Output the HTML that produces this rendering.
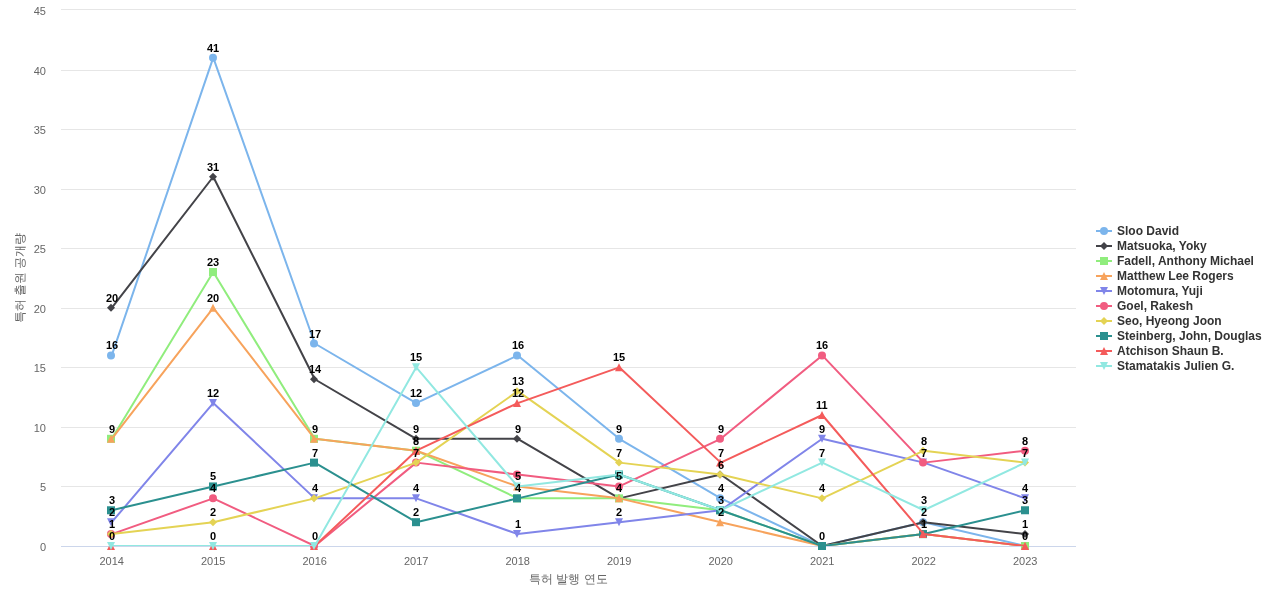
<!DOCTYPE html>
<html lang="ko"><head><meta charset="utf-8"><title>특허 출원 공개량</title>
<style>html,body{margin:0;padding:0;background:#fff;overflow:hidden}svg{display:block;will-change:transform;font-family:"Liberation Sans","WenQuanYi Zen Hei",sans-serif}.ax{font-size:11px;fill:#666}.tt{font-size:12px;fill:#666}.dl{font-size:11px;font-weight:bold;fill:#000}.lg{font-size:12px;font-weight:bold;fill:#333}</style></head><body>
<svg width="1280" height="600" viewBox="0 0 1280 600">
<rect width="1280" height="600" fill="#fff"/>
<defs><clipPath id="plot"><rect x="61" y="10" width="1015" height="536"/></clipPath></defs>
<g stroke="#e6e6e6" stroke-width="1">
<path d="M61 9.5H1076"/>
<path d="M61 70.5H1076"/>
<path d="M61 129.5H1076"/>
<path d="M61 189.5H1076"/>
<path d="M61 248.5H1076"/>
<path d="M61 308.5H1076"/>
<path d="M61 367.5H1076"/>
<path d="M61 427.5H1076"/>
<path d="M61 486.5H1076"/>
</g>
<path d="M61 546.5H1076" stroke="#ccd6eb" stroke-width="1"/>
<g class="ax" text-anchor="end">
<text x="46" y="551">0</text>
<text x="46" y="491">5</text>
<text x="46" y="432">10</text>
<text x="46" y="372">15</text>
<text x="46" y="313">20</text>
<text x="46" y="253">25</text>
<text x="46" y="194">30</text>
<text x="46" y="134">35</text>
<text x="46" y="75">40</text>
<text x="46" y="15">45</text>
</g>
<g class="ax" text-anchor="middle">
<text x="111.75" y="565">2014</text>
<text x="213.25" y="565">2015</text>
<text x="314.75" y="565">2016</text>
<text x="416.25" y="565">2017</text>
<text x="517.75" y="565">2018</text>
<text x="619.25" y="565">2019</text>
<text x="720.75" y="565">2020</text>
<text x="822.25" y="565">2021</text>
<text x="923.75" y="565">2022</text>
<text x="1025.25" y="565">2023</text>
</g>
<text class="tt" x="529 541 553 556 568 580 584 596" y="583">특허 발행 연도</text>
<text class="tt" x="-45 -33 -21 -18 -6 6 9 21 33" y="0" transform="translate(24 278) rotate(-90)">특허 출원 공개량</text>
<g><path d="M111.75 355.42 L213.25 57.64 L314.75 343.51 L416.25 403.07 L517.75 355.42 L619.25 438.8 L720.75 498.36 L822.25 546 L923.75 522.18 L1025.25 546" fill="none" stroke="#7cb5ec" stroke-width="2" stroke-linejoin="round" stroke-linecap="round" clip-path="url(#plot)"/>
<circle cx="111" cy="355.42" r="4" fill="#7cb5ec"/>
<circle cx="213" cy="57.64" r="4" fill="#7cb5ec"/>
<circle cx="314" cy="343.51" r="4" fill="#7cb5ec"/>
<circle cx="416" cy="403.07" r="4" fill="#7cb5ec"/>
<circle cx="517" cy="355.42" r="4" fill="#7cb5ec"/>
<circle cx="619" cy="438.8" r="4" fill="#7cb5ec"/>
<circle cx="720" cy="498.36" r="4" fill="#7cb5ec"/>
<circle cx="822" cy="546" r="4" fill="#7cb5ec"/>
<circle cx="923" cy="522.18" r="4" fill="#7cb5ec"/>
<circle cx="1025" cy="546" r="4" fill="#7cb5ec"/>
</g>
<g><path d="M111.75 307.78 L213.25 176.76 L314.75 379.24 L416.25 438.8 L517.75 438.8 L619.25 498.36 L720.75 474.53 L822.25 546 L923.75 522.18 L1025.25 534.09" fill="none" stroke="#434348" stroke-width="2" stroke-linejoin="round" stroke-linecap="round" clip-path="url(#plot)"/>
<path d="M111 303.78L115 307.78L111 311.78L107 307.78Z" fill="#434348"/>
<path d="M213 172.76L217 176.76L213 180.76L209 176.76Z" fill="#434348"/>
<path d="M314 375.24L318 379.24L314 383.24L310 379.24Z" fill="#434348"/>
<path d="M416 434.8L420 438.8L416 442.8L412 438.8Z" fill="#434348"/>
<path d="M517 434.8L521 438.8L517 442.8L513 438.8Z" fill="#434348"/>
<path d="M619 494.36L623 498.36L619 502.36L615 498.36Z" fill="#434348"/>
<path d="M720 470.53L724 474.53L720 478.53L716 474.53Z" fill="#434348"/>
<path d="M822 542L826 546L822 550L818 546Z" fill="#434348"/>
<path d="M923 518.18L927 522.18L923 526.18L919 522.18Z" fill="#434348"/>
<path d="M1025 530.09L1029 534.09L1025 538.09L1021 534.09Z" fill="#434348"/>
</g>
<g><path d="M111.75 438.8 L213.25 272.04 L314.75 438.8 L416.25 450.71 L517.75 498.36 L619.25 498.36 L720.75 510.27 L822.25 546 L923.75 534.09 L1025.25 546" fill="none" stroke="#90ed7d" stroke-width="2" stroke-linejoin="round" stroke-linecap="round" clip-path="url(#plot)"/>
<rect x="107" y="434.8" width="8" height="8" fill="#90ed7d"/>
<rect x="209" y="268.04" width="8" height="8" fill="#90ed7d"/>
<rect x="310" y="434.8" width="8" height="8" fill="#90ed7d"/>
<rect x="412" y="446.71" width="8" height="8" fill="#90ed7d"/>
<rect x="513" y="494.36" width="8" height="8" fill="#90ed7d"/>
<rect x="615" y="494.36" width="8" height="8" fill="#90ed7d"/>
<rect x="716" y="506.27" width="8" height="8" fill="#90ed7d"/>
<rect x="818" y="542" width="8" height="8" fill="#90ed7d"/>
<rect x="919" y="530.09" width="8" height="8" fill="#90ed7d"/>
<rect x="1021" y="542" width="8" height="8" fill="#90ed7d"/>
</g>
<g><path d="M111.75 438.8 L213.25 307.78 L314.75 438.8 L416.25 450.71 L517.75 486.44 L619.25 498.36 L720.75 522.18 L822.25 546 L923.75 534.09 L1025.25 546" fill="none" stroke="#f7a35c" stroke-width="2" stroke-linejoin="round" stroke-linecap="round" clip-path="url(#plot)"/>
<path d="M111 434.8L115 442.8L107 442.8Z" fill="#f7a35c"/>
<path d="M213 303.78L217 311.78L209 311.78Z" fill="#f7a35c"/>
<path d="M314 434.8L318 442.8L310 442.8Z" fill="#f7a35c"/>
<path d="M416 446.71L420 454.71L412 454.71Z" fill="#f7a35c"/>
<path d="M517 482.44L521 490.44L513 490.44Z" fill="#f7a35c"/>
<path d="M619 494.36L623 502.36L615 502.36Z" fill="#f7a35c"/>
<path d="M720 518.18L724 526.18L716 526.18Z" fill="#f7a35c"/>
<path d="M822 542L826 550L818 550Z" fill="#f7a35c"/>
<path d="M923 530.09L927 538.09L919 538.09Z" fill="#f7a35c"/>
<path d="M1025 542L1029 550L1021 550Z" fill="#f7a35c"/>
</g>
<g><path d="M111.75 522.18 L213.25 403.07 L314.75 498.36 L416.25 498.36 L517.75 534.09 L619.25 522.18 L720.75 510.27 L822.25 438.8 L923.75 462.62 L1025.25 498.36" fill="none" stroke="#8085e9" stroke-width="2" stroke-linejoin="round" stroke-linecap="round" clip-path="url(#plot)"/>
<path d="M107 518.18L115 518.18L111 526.18Z" fill="#8085e9"/>
<path d="M209 399.07L217 399.07L213 407.07Z" fill="#8085e9"/>
<path d="M310 494.36L318 494.36L314 502.36Z" fill="#8085e9"/>
<path d="M412 494.36L420 494.36L416 502.36Z" fill="#8085e9"/>
<path d="M513 530.09L521 530.09L517 538.09Z" fill="#8085e9"/>
<path d="M615 518.18L623 518.18L619 526.18Z" fill="#8085e9"/>
<path d="M716 506.27L724 506.27L720 514.27Z" fill="#8085e9"/>
<path d="M818 434.8L826 434.8L822 442.8Z" fill="#8085e9"/>
<path d="M919 458.62L927 458.62L923 466.62Z" fill="#8085e9"/>
<path d="M1021 494.36L1029 494.36L1025 502.36Z" fill="#8085e9"/>
</g>
<g><path d="M111.75 534.09 L213.25 498.36 L314.75 546 L416.25 462.62 L517.75 474.53 L619.25 486.44 L720.75 438.8 L822.25 355.42 L923.75 462.62 L1025.25 450.71" fill="none" stroke="#f15c80" stroke-width="2" stroke-linejoin="round" stroke-linecap="round" clip-path="url(#plot)"/>
<circle cx="111" cy="534.09" r="4" fill="#f15c80"/>
<circle cx="213" cy="498.36" r="4" fill="#f15c80"/>
<circle cx="314" cy="546" r="4" fill="#f15c80"/>
<circle cx="416" cy="462.62" r="4" fill="#f15c80"/>
<circle cx="517" cy="474.53" r="4" fill="#f15c80"/>
<circle cx="619" cy="486.44" r="4" fill="#f15c80"/>
<circle cx="720" cy="438.8" r="4" fill="#f15c80"/>
<circle cx="822" cy="355.42" r="4" fill="#f15c80"/>
<circle cx="923" cy="462.62" r="4" fill="#f15c80"/>
<circle cx="1025" cy="450.71" r="4" fill="#f15c80"/>
</g>
<g><path d="M111.75 534.09 L213.25 522.18 L314.75 498.36 L416.25 462.62 L517.75 391.16 L619.25 462.62 L720.75 474.53 L822.25 498.36 L923.75 450.71 L1025.25 462.62" fill="none" stroke="#e4d354" stroke-width="2" stroke-linejoin="round" stroke-linecap="round" clip-path="url(#plot)"/>
<path d="M111 530.09L115 534.09L111 538.09L107 534.09Z" fill="#e4d354"/>
<path d="M213 518.18L217 522.18L213 526.18L209 522.18Z" fill="#e4d354"/>
<path d="M314 494.36L318 498.36L314 502.36L310 498.36Z" fill="#e4d354"/>
<path d="M416 458.62L420 462.62L416 466.62L412 462.62Z" fill="#e4d354"/>
<path d="M517 387.16L521 391.16L517 395.16L513 391.16Z" fill="#e4d354"/>
<path d="M619 458.62L623 462.62L619 466.62L615 462.62Z" fill="#e4d354"/>
<path d="M720 470.53L724 474.53L720 478.53L716 474.53Z" fill="#e4d354"/>
<path d="M822 494.36L826 498.36L822 502.36L818 498.36Z" fill="#e4d354"/>
<path d="M923 446.71L927 450.71L923 454.71L919 450.71Z" fill="#e4d354"/>
<path d="M1025 458.62L1029 462.62L1025 466.62L1021 462.62Z" fill="#e4d354"/>
</g>
<g><path d="M111.75 510.27 L213.25 486.44 L314.75 462.62 L416.25 522.18 L517.75 498.36 L619.25 474.53 L720.75 510.27 L822.25 546 L923.75 534.09 L1025.25 510.27" fill="none" stroke="#2b908f" stroke-width="2" stroke-linejoin="round" stroke-linecap="round" clip-path="url(#plot)"/>
<rect x="107" y="506.27" width="8" height="8" fill="#2b908f"/>
<rect x="209" y="482.44" width="8" height="8" fill="#2b908f"/>
<rect x="310" y="458.62" width="8" height="8" fill="#2b908f"/>
<rect x="412" y="518.18" width="8" height="8" fill="#2b908f"/>
<rect x="513" y="494.36" width="8" height="8" fill="#2b908f"/>
<rect x="615" y="470.53" width="8" height="8" fill="#2b908f"/>
<rect x="716" y="506.27" width="8" height="8" fill="#2b908f"/>
<rect x="818" y="542" width="8" height="8" fill="#2b908f"/>
<rect x="919" y="530.09" width="8" height="8" fill="#2b908f"/>
<rect x="1021" y="506.27" width="8" height="8" fill="#2b908f"/>
</g>
<g><path d="M111.75 546 L213.25 546 L314.75 546 L416.25 450.71 L517.75 403.07 L619.25 367.33 L720.75 462.62 L822.25 414.98 L923.75 534.09 L1025.25 546" fill="none" stroke="#f45b5b" stroke-width="2" stroke-linejoin="round" stroke-linecap="round" clip-path="url(#plot)"/>
<path d="M111 542L115 550L107 550Z" fill="#f45b5b"/>
<path d="M213 542L217 550L209 550Z" fill="#f45b5b"/>
<path d="M314 542L318 550L310 550Z" fill="#f45b5b"/>
<path d="M416 446.71L420 454.71L412 454.71Z" fill="#f45b5b"/>
<path d="M517 399.07L521 407.07L513 407.07Z" fill="#f45b5b"/>
<path d="M619 363.33L623 371.33L615 371.33Z" fill="#f45b5b"/>
<path d="M720 458.62L724 466.62L716 466.62Z" fill="#f45b5b"/>
<path d="M822 410.98L826 418.98L818 418.98Z" fill="#f45b5b"/>
<path d="M923 530.09L927 538.09L919 538.09Z" fill="#f45b5b"/>
<path d="M1025 542L1029 550L1021 550Z" fill="#f45b5b"/>
</g>
<g><path d="M111.75 546 L213.25 546 L314.75 546 L416.25 367.33 L517.75 486.44 L619.25 474.53 L720.75 510.27 L822.25 462.62 L923.75 510.27 L1025.25 462.62" fill="none" stroke="#91e8e1" stroke-width="2" stroke-linejoin="round" stroke-linecap="round" clip-path="url(#plot)"/>
<path d="M107 542L115 542L111 550Z" fill="#91e8e1"/>
<path d="M209 542L217 542L213 550Z" fill="#91e8e1"/>
<path d="M310 542L318 542L314 550Z" fill="#91e8e1"/>
<path d="M412 363.33L420 363.33L416 371.33Z" fill="#91e8e1"/>
<path d="M513 482.44L521 482.44L517 490.44Z" fill="#91e8e1"/>
<path d="M615 470.53L623 470.53L619 478.53Z" fill="#91e8e1"/>
<path d="M716 506.27L724 506.27L720 514.27Z" fill="#91e8e1"/>
<path d="M818 458.62L826 458.62L822 466.62Z" fill="#91e8e1"/>
<path d="M919 506.27L927 506.27L923 514.27Z" fill="#91e8e1"/>
<path d="M1021 458.62L1029 458.62L1025 466.62Z" fill="#91e8e1"/>
</g>
<g class="dl">
<text x="106" y="349">16</text>
<text x="207" y="52">41</text>
<text x="309" y="338">17</text>
<text x="410" y="397">12</text>
<text x="512" y="349">16</text>
<text x="616" y="433">9</text>
<text x="718" y="492">4</text>
<text x="819" y="540">0</text>
<text x="921" y="516">2</text>
<text x="1022" y="540">0</text>
<text x="106" y="302">20</text>
<text x="207" y="171">31</text>
<text x="309" y="373">14</text>
<text x="413" y="433">9</text>
<text x="515" y="433">9</text>
<text x="616" y="492">4</text>
<text x="718" y="469">6</text>
<text x="1022" y="528">1</text>
<text x="109" y="433">9</text>
<text x="207" y="266">23</text>
<text x="312" y="433">9</text>
<text x="413" y="445">8</text>
<text x="515" y="492">4</text>
<text x="718" y="504">3</text>
<text x="921" y="528">1</text>
<text x="207" y="302">20</text>
<text x="515" y="480">5</text>
<text x="718" y="516">2</text>
<text x="109" y="516">2</text>
<text x="207" y="397">12</text>
<text x="312" y="492">4</text>
<text x="413" y="492">4</text>
<text x="515" y="528">1</text>
<text x="616" y="516">2</text>
<text x="819" y="433">9</text>
<text x="921" y="457">7</text>
<text x="1022" y="492">4</text>
<text x="109" y="528">1</text>
<text x="210" y="492">4</text>
<text x="312" y="540">0</text>
<text x="413" y="457">7</text>
<text x="616" y="480">5</text>
<text x="718" y="433">9</text>
<text x="816" y="349">16</text>
<text x="1022" y="445">8</text>
<text x="210" y="516">2</text>
<text x="512" y="385">13</text>
<text x="616" y="457">7</text>
<text x="819" y="492">4</text>
<text x="921" y="445">8</text>
<text x="1022" y="457">7</text>
<text x="109" y="504">3</text>
<text x="210" y="480">5</text>
<text x="312" y="457">7</text>
<text x="413" y="516">2</text>
<text x="1022" y="504">3</text>
<text x="109" y="540">0</text>
<text x="210" y="540">0</text>
<text x="512" y="397">12</text>
<text x="613" y="361">15</text>
<text x="718" y="457">7</text>
<text x="816" y="409">11</text>
<text x="410" y="361">15</text>
<text x="819" y="457">7</text>
<text x="921" y="504">3</text>
</g>
<g>
<path d="M1096 231H1112" stroke="#7cb5ec" stroke-width="2"/>
<circle cx="1104" cy="231" r="4" fill="#7cb5ec"/>
<text class="lg" x="1117" y="235">Sloo David</text>
<path d="M1096 246H1112" stroke="#434348" stroke-width="2"/>
<path d="M1104 242L1108 246L1104 250L1100 246Z" fill="#434348"/>
<text class="lg" x="1117" y="250">Matsuoka, Yoky</text>
<path d="M1096 261H1112" stroke="#90ed7d" stroke-width="2"/>
<rect x="1100" y="257" width="8" height="8" fill="#90ed7d"/>
<text class="lg" x="1117" y="265">Fadell, Anthony Michael</text>
<path d="M1096 276H1112" stroke="#f7a35c" stroke-width="2"/>
<path d="M1104 272L1108 280L1100 280Z" fill="#f7a35c"/>
<text class="lg" x="1117" y="280">Matthew Lee Rogers</text>
<path d="M1096 291H1112" stroke="#8085e9" stroke-width="2"/>
<path d="M1100 287L1108 287L1104 295Z" fill="#8085e9"/>
<text class="lg" x="1117" y="295">Motomura, Yuji</text>
<path d="M1096 306H1112" stroke="#f15c80" stroke-width="2"/>
<circle cx="1104" cy="306" r="4" fill="#f15c80"/>
<text class="lg" x="1117" y="310">Goel, Rakesh</text>
<path d="M1096 321H1112" stroke="#e4d354" stroke-width="2"/>
<path d="M1104 317L1108 321L1104 325L1100 321Z" fill="#e4d354"/>
<text class="lg" x="1117" y="325">Seo, Hyeong Joon</text>
<path d="M1096 336H1112" stroke="#2b908f" stroke-width="2"/>
<rect x="1100" y="332" width="8" height="8" fill="#2b908f"/>
<text class="lg" x="1117" y="340">Steinberg, John, Douglas</text>
<path d="M1096 351H1112" stroke="#f45b5b" stroke-width="2"/>
<path d="M1104 347L1108 355L1100 355Z" fill="#f45b5b"/>
<text class="lg" x="1117" y="355">Atchison Shaun B.</text>
<path d="M1096 366H1112" stroke="#91e8e1" stroke-width="2"/>
<path d="M1100 362L1108 362L1104 370Z" fill="#91e8e1"/>
<text class="lg" x="1117" y="370">Stamatakis Julien G.</text>
</g>
</svg></body></html>
